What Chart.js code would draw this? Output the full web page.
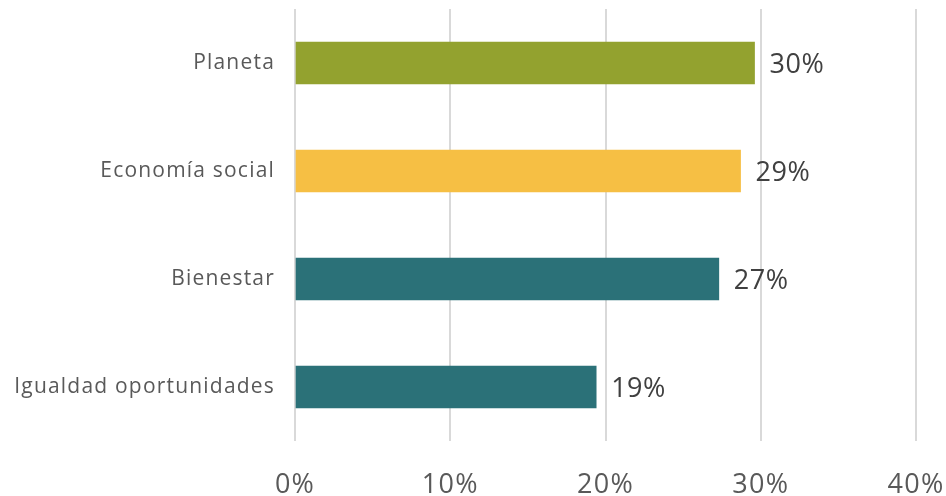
<!DOCTYPE html>
<html>
<head>
<meta charset="utf-8">
<script src="https://cdn.jsdelivr.net/npm/chart.js@4"></script>
<style>
  html, body { margin: 0; padding: 0; background: #fff; }
  #wrap { width: 946px; height: 496px; }
</style>
</head>
<body>
<div id="wrap"><canvas id="chart" width="946" height="496"></canvas></div>
<script>
// data
const categories = ['Planeta', 'Economía social', 'Bienestar', 'Igualdad oportunidades'];
const values = [29.6, 28.7, 27.3, 19.4];
const labels = ['30%', '29%', '27%', '19%'];
const barColors = ['#93A22F', '#F6BF44', '#2B7178', '#2B7178'];
const xTicks = [0, 10, 20, 30, 40];

// wider letter spacing for the axis text
const spacing = {
    id: 'spacing',
    beforeDraw(chart) {
        chart.ctx.letterSpacing = '1.2px';
    }
};

// value labels to the right of each bar
const valueLabels = {
    id: 'valueLabels',
    afterDatasetsDraw(chart) {
        const ctx = chart.ctx;
        const meta = chart.getDatasetMeta(0);
        ctx.save();
        ctx.letterSpacing = '0.5px';
        ctx.font = '27px "Open Sans"';
        ctx.fillStyle = '#404040';
        ctx.textAlign = 'left';
        ctx.textBaseline = 'middle';
        meta.data.forEach((bar, i) => {
            ctx.fillText(labels[i], bar.x + 15, bar.y + 2);
        });
        ctx.restore();
    }
};

new Chart(document.getElementById('chart'), {
    type: 'bar',
    data: {
        labels: categories,
        datasets: [{
            data: values,
            backgroundColor: barColors,
            barThickness: 42
        }]
    },
    options: {
        indexAxis: 'y',
        responsive: false,
        animation: false,
        layout: { padding: { top: 9, right: 30, left: 0, bottom: 0 } },
        plugins: {
            legend: { display: false },
            tooltip: { enabled: false }
        },
        scales: {
            x: {
                min: 0,
                max: 40,
                afterBuildTicks: (scale) => { scale.ticks = xTicks.map(v => ({ value: v })); },
                afterFit: (scale) => {
                    scale.height = 55;
                    scale.paddingLeft = 0;
                    scale.paddingRight = 0;
                },
                border: { display: false },
                grid: { color: '#d9d9d9', lineWidth: 2, drawTicks: false },
                ticks: {
                    padding: 28,
                    color: '#595959',
                    font: { family: 'Open Sans', size: 27 },
                    callback: (v) => v + '%'
                }
            },
            y: {
                afterFit: (scale) => {
                    scale.width = 295;
                    scale.paddingTop = 0;
                    scale.paddingBottom = 0;
                },
                border: { display: false },
                grid: { display: false, drawTicks: false },
                ticks: {
                    padding: 20,
                    color: '#595959',
                    font: { family: 'Open Sans', size: 21 }
                }
            }
        }
    },
    plugins: [spacing, valueLabels]
});
</script>
</body>
</html>
